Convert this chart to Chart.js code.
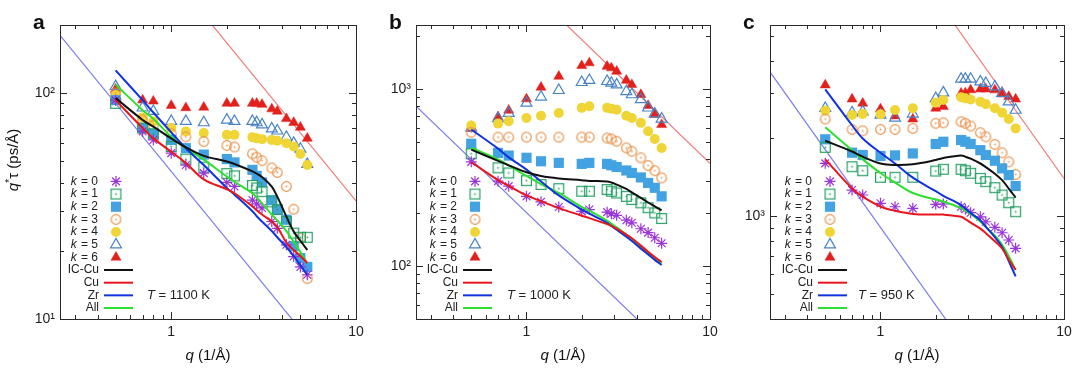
<!DOCTYPE html>
<html>
<head>
<meta charset="utf-8">
<script src="https://cdn.jsdelivr.net/npm/chart.js@4.4.0/dist/chart.umd.min.js"></script>
<style>
  body { margin: 0; background: #fff; width: 1080px; height: 373px; position: relative; overflow: hidden; }
  canvas { position: absolute; top: 0; }
</style>
</head>
<body>
<canvas id="chartA" width="376" height="373" style="left:0px"></canvas>
<canvas id="chartB" width="370" height="373" style="left:360px"></canvas>
<canvas id="chartC" width="360" height="373" style="left:720px"></canvas>
<script>
// q values (1/Å) shared by all markers and curves
const qK = [0.5, 0.7, 0.8, 1.0, 1.2, 1.5, 2.0, 2.2, 2.75, 2.9, 3.1, 3.5, 3.75, 4.2, 4.6, 5.0, 5.45];
const kLabels = ['0', '1', '2', '3', '4', '5', '6'];
const lineLabels = ['IC-Cu', 'Cu', 'Zr', 'All'];

// reference power-law lines (two end points each)
const refQ = [0.25, 10];

// panel a, T = 1100 K
const aK0 = [93, 67.6, 62, 54.2, 48, 44.2, 40.2, 38.6, 33.6, 32.3, 31, 27, 25.2, 21.3, 18.9, 17, 15.7];
const aK1 = [90, 70, 66, 58, 51, 47, 44, 43, 39, 38, 36.6, 33, 30.5, 27, 24, 23, 23];
const aK2 = [93, 70, 66, 62, 57, 53.4, 51, 49.3, 45.7, 43, 40.2, 33.6, 30.4, 27.5, 21, 18.6, 17];
const aK3 = [100, 76, 72, 66, 64, 61, 58.6, 57.7, 53.8, 52, 50.2, 46.6, 44.5, 38.6, 30.6, 22.8, 15.1];
const aK4 = [98, 78, 74.8, 70, 67.6, 66.5, 65.3, 65.3, 63.8, 63, 62.5, 62, 61.5, 60, 58, 53.7, 48];
const aK5 = [107, 86, 83, 75, 75, 74, 76, 75, 75, 74, 72.4, 69.5, 68, 63.8, 60, 56.5, 48.4];
const aK6 = [104, 93, 92, 88, 86, 86.5, 90, 90, 90, 90, 89, 85, 83, 77, 74, 70.5, 63];
const aIC = [95, 76, 71, 63, 57.5, 52.7, 49.8, 48.5, 45, 44, 42.5, 38.5, 34.8, 28.4, 24.4, 22.2, 20.2];
const aCu = [93, 70, 63, 55, 49, 41.5, 37.5, 36, 31.5, 30.3, 29, 27, 25.5, 21.8, 20.2, 19, 17.7];
const aZr = [126, 93, 82, 67, 57, 48, 38, 35.5, 30, 28.5, 27, 24.5, 23, 20.8, 19, 17.3, 15.7];
const aAll = [109, 84, 77, 64, 57, 50.7, 42.7, 40.5, 36, 34.5, 32.5, 29, 27.3, 24.5, 22, 19.8, 17.6];
const aRefBlue = [180, 4.5];
const aRefRed = [1332, 33.3];

// panel b, T = 1000 K
const bK0 = [387, 301, 282, 247, 230, 215, 203, 208, 201, 197, 193, 181, 175, 162, 154, 144, 134];
const bK1 = [430, 358, 335, 303, 288, 273, 264, 264, 270, 264, 258, 247, 237, 227, 213, 199, 185];
const bK2 = [490, 435, 420, 408, 390, 382, 377, 382, 377, 370, 362, 346, 335, 316, 294, 276, 247];
const bK3 = [569, 534, 534, 534, 534, 534, 534, 534, 528, 522, 506, 464, 444, 408, 369, 345, 314];
const bK4 = [621, 637, 656, 685, 706, 731, 782, 798, 782, 774, 764, 706, 685, 643, 576, 521, 464];
const bK5 = [604, 680, 730, 833, 902, 982, 1090, 1119, 1104, 1081, 1057, 969, 929, 871, 782, 724, 677];
const bK6 = [597, 695, 757, 878, 1021, 1178, 1354, 1403, 1342, 1315, 1258, 1119, 1057, 929, 805, 716, 628];
const bIC = [454, 392, 370, 338, 322, 312, 305, 302, 300, 296, 288, 272, 260, 242, 228, 217, 206];
const bCu = [385, 305, 283, 250, 232, 212, 192, 186, 172, 168, 162, 150, 143, 130, 120, 112, 105];
const bZr = [590, 460, 410, 350, 300, 250, 208, 197, 175, 168, 160, 146, 138, 125, 116, 108, 101];
const bAll = [465, 400, 370, 322, 290, 258, 215, 205, 180, 173, 165, 150, 141, 128, 118, 110, 103];
const bRefBlue = [800, 20];
const bRefRed = [15200, 380];

// panel c, T = 950 K
const cK0 = [1602, 1263, 1208, 1122, 1088, 1073, 1112, 1115, 1088, 1064, 1032, 995, 952, 906, 863, 809, 751];
const cK1 = [1848, 1555, 1500, 1415, 1415, 1415, 1496, 1520, 1520, 1500, 1466, 1402, 1361, 1290, 1208, 1128, 1041];
const cK2 = [1985, 1762, 1726, 1711, 1720, 1750, 1904, 1942, 1972, 1942, 1904, 1802, 1726, 1640, 1532, 1443, 1309];
const cK3 = [2378, 2168, 2142, 2168, 2168, 2188, 2290, 2300, 2322, 2290, 2234, 2105, 2030, 1897, 1760, 1625, 1452];
const cK4 = [2560, 2466, 2490, 2480, 2576, 2618, 2750, 2818, 2887, 2860, 2830, 2773, 2717, 2618, 2518, 2378, 2188];
const cK5 = [2618, 2518, 2540, 2466, 2400, 2490, 2857, 3008, 3397, 3397, 3397, 3318, 3272, 3173, 2992, 2773, 2576];
const cK6 = [3220, 2840, 2737, 2602, 2444, 2378, 2618, 2656, 2992, 3000, 3083, 3106, 3106, 3083, 2970, 2905, 2840];
const cIC = [1960, 1780, 1700, 1600, 1580, 1590, 1650, 1680, 1720, 1700, 1670, 1600, 1550, 1460, 1380, 1280, 1180];
const cCu = [1660, 1280, 1190, 1090, 1050, 1020, 1015, 1015, 995, 975, 945, 895, 860, 800, 750, 680, 620];
const cZr = [3100, 2250, 2000, 1760, 1600, 1410, 1250, 1200, 1105, 1070, 1030, 965, 910, 830, 760, 670, 585];
const cAll = [2210, 1800, 1660, 1470, 1350, 1230, 1160, 1140, 1075, 1050, 1020, 955, 910, 840, 775, 700, 620];
const cRefBlue = [3620, 90.5];
const cRefRed = [56000, 1400];

// tick positions and labels
const xTicks = [0.3, 0.4, 0.5, 0.6, 0.7, 0.8, 0.9, 1, 2, 3, 4, 5, 6, 7, 8, 9, 10];
const xMajor = [1, 10];
const xMajorLabels = ['1', '10'];
const yTicksA = [10, 20, 30, 40, 50, 60, 70, 80, 90, 100, 200];
const yTicksB = [50, 60, 70, 80, 90, 100, 200, 300, 400, 500, 600, 700, 800, 900, 1000, 2000];
const yTicksC = [400, 500, 600, 700, 800, 900, 1000, 2000, 3000, 4000, 5000];
const yMajor = [10, 100, 1000];
const yMajorLabels = ['10¹', '10²', '10³'];

const FONT = "'Liberation Sans', Arial, sans-serif";

function makeMarker(shape, color) {
  const c = document.createElement('canvas');
  c.width = 13; c.height = 13;
  const g = c.getContext('2d');
  g.strokeStyle = color;
  g.fillStyle = color;
  g.lineWidth = 1.2;
  if (shape === 'sq') {
    g.strokeRect(1.6, 1.6, 9.8, 9.8);
  } else {
    g.beginPath();
    g.arc(6.5, 6.5, 4.8, 0, Math.PI * 2);
    g.stroke();
  }
  g.fillRect(5.7, 5.7, 1.6, 1.6);
  return c;
}

const kStyles = [
  { style: 'star', color: '#9b35d8', fill: '#9b35d8', r: 5.5, bw: 1.2 },
  { style: makeMarker('sq', '#27a065'), color: '#27a065', fill: 'transparent', r: 6, bw: 1 },
  { style: 'rect', color: '#43a2e2', fill: '#43a2e2', r: 7.2, bw: 0 },
  { style: makeMarker('circ', '#ea9550'), color: '#ea9550', fill: 'transparent', r: 6, bw: 1 },
  { style: 'circle', color: '#efd535', fill: '#efd535', r: 5, bw: 0 },
  { style: 'triangle', color: '#4a84c6', fill: 'rgba(0,0,0,0)', r: 6.3, bw: 1.2 },
  { style: 'triangle', color: '#e2211c', fill: '#e2211c', r: 5.8, bw: 0.5 }
];
const lineColors = ['#111111', '#e8161c', '#1133dd', '#2ee02e'];

function pts(xs, ys) {
  return xs.map((x, i) => ({ x: x, y: ys[i] }));
}

const decor = {
  id: 'decor',
  afterDatasetsDraw(chart, args, o) {
    const { ctx, chartArea: a, scales: { x, y } } = chart;
    ctx.save();
    ctx.strokeStyle = '#2a2a2a';
    ctx.lineWidth = 1;
    const seg = (x1, y1, x2, y2) => { ctx.beginPath(); ctx.moveTo(x1, y1); ctx.lineTo(x2, y2); ctx.stroke(); };
    // inward ticks on all four sides
    xTicks.forEach(v => {
      const px = Math.round(x.getPixelForValue(v)) + 0.5;
      const len = xMajor.includes(v) ? 7 : 4;
      seg(px, a.bottom, px, a.bottom - len);
      seg(px, a.top, px, a.top + len);
    });
    o.yTicks.forEach(v => {
      const py = Math.round(y.getPixelForValue(v)) + 0.5;
      const len = yMajor.includes(v) ? 7 : 4;
      seg(a.left, py, a.left + len, py);
      seg(a.right, py, a.right - len, py);
    });
    ctx.strokeRect(Math.round(a.left) + 0.5, Math.round(a.top) + 0.5, Math.round(a.right - a.left), Math.round(a.bottom - a.top));

    // legend inside the plot, bottom-left
    const step = 12.66;
    const textR = a.left + o.legendDx;
    const markX = a.left + o.legendDx + 18;
    ctx.textBaseline = 'middle';
    ctx.fillStyle = '#222';
    for (let i = 0; i < 11; i++) {
      const ry = a.bottom - 11 - (10 - i) * step;
      if (i < 7) {
        ctx.font = '12px ' + FONT;
        const rest = ' = ' + kLabels[i];
        const wRest = ctx.measureText(rest).width;
        ctx.textAlign = 'left';
        ctx.fillStyle = '#222';
        ctx.fillText(rest, textR - wRest, ry);
        ctx.font = 'italic 12px ' + FONT;
        const wk = ctx.measureText('k').width;
        ctx.fillText('k', textR - wRest - wk - 1, ry);
        const st = kStyles[i];
        ctx.save();
        ctx.fillStyle = st.fill;
        ctx.strokeStyle = st.color;
        ctx.lineWidth = st.bw;
        Chart.helpers.drawPoint(ctx, { pointStyle: st.style, radius: st.r, borderWidth: st.bw, rotation: 0 }, markX, ry);
        ctx.restore();
      } else {
        ctx.font = '12px ' + FONT;
        ctx.textAlign = 'right';
        ctx.fillStyle = '#222';
        ctx.fillText(lineLabels[i - 7], textR + 1, ry);
        ctx.strokeStyle = lineColors[i - 7];
        ctx.lineWidth = 2;
        seg(a.left + o.legendDx + 6, ry, a.left + o.legendDx + 35, ry);
      }
    }
    // temperature
    ctx.textAlign = 'left';
    ctx.fillStyle = '#222';
    const ty = a.bottom - 11 - step;
    const tx = a.left + o.tempDx;
    ctx.font = 'italic 13px ' + FONT;
    ctx.fillText('T', tx, ty);
    const wT = ctx.measureText('T').width;
    ctx.font = '13px ' + FONT;
    ctx.fillText(' = ' + o.temp + ' K', tx + wT, ty);

    // panel letter
    ctx.font = 'bold 21px ' + FONT;
    ctx.textBaseline = 'alphabetic';
    ctx.fillStyle = '#111';
    ctx.fillText(o.letter, a.left - 27, 29);

    // x title: q (1/Å)
    ctx.font = 'italic 15px ' + FONT;
    const wq = ctx.measureText('q').width;
    ctx.font = '15px ' + FONT;
    const wr = ctx.measureText(' (1/Å)').width;
    const cx = (a.left + a.right) / 2 - (wq + wr) / 2;
    ctx.textBaseline = 'middle';
    ctx.font = 'italic 15px ' + FONT;
    ctx.fillText('q', cx, 356);
    ctx.font = '15px ' + FONT;
    ctx.fillText(' (1/Å)', cx + wq, 356);

    // y title (panel a only)
    if (o.yTitle) {
      ctx.save();
      ctx.translate(14, 160);
      ctx.rotate(-Math.PI / 2);
      ctx.font = 'italic 15px ' + FONT;
      const w1 = ctx.measureText('q').width;
      ctx.font = '11px ' + FONT;
      const w2 = ctx.measureText('*').width;
      ctx.font = '15px ' + FONT;
      const w3 = ctx.measureText('τ (ps/Å)').width;
      let sx = -(w1 + w2 + w3) / 2;
      ctx.font = 'italic 15px ' + FONT;
      ctx.fillText('q', sx, 0);
      ctx.font = '11px ' + FONT;
      ctx.fillText('*', sx + w1, -4);
      ctx.font = '15px ' + FONT;
      ctx.fillText('τ (ps/Å)', sx + w1 + w2, 0);
      ctx.restore();
    }
    ctx.restore();
  }
};

function makePanel(id, p) {
  const datasets = [];
  p.k.forEach((vals, i) => {
    const st = kStyles[i];
    datasets.push({
      label: 'k = ' + kLabels[i],
      data: pts(qK, vals),
      showLine: false,
      order: 1,
      pointStyle: st.style,
      pointRadius: st.r,
      pointBorderWidth: st.bw,
      pointBackgroundColor: st.fill,
      pointBorderColor: st.color
    });
  });
  p.lines.forEach((vals, i) => {
    datasets.push({
      label: lineLabels[i],
      data: pts(qK, vals),
      showLine: true,
      order: 0,
      pointRadius: 0,
      borderColor: lineColors[i],
      borderWidth: 2,
      tension: 0.35
    });
  });
  [[p.refBlue, '#7d7dea'], [p.refRed, '#f07c7c']].forEach(([vals, col]) => {
    datasets.push({
      data: pts(refQ, vals),
      showLine: true,
      order: 2,
      pointRadius: 0,
      borderColor: col,
      borderWidth: 1.2
    });
  });

  return new Chart(document.getElementById(id), {
    type: 'scatter',
    data: { datasets: datasets },
    options: {
      responsive: false,
      animation: false,
      events: [],
      layout: { padding: { top: 25, right: p.padRight, bottom: 0, left: 0 } },
      plugins: {
        legend: { display: false },
        tooltip: { enabled: false },
        decor: { yTicks: p.yTicks, letter: p.letter, temp: p.temp, yTitle: p.yTitle, legendDx: p.legendDx, tempDx: p.tempDx }
      },
      scales: {
        x: {
          type: 'logarithmic',
          min: 0.25,
          max: 10,
          grid: { display: false, drawTicks: false },
          border: { display: false },
          afterBuildTicks: s => { s.ticks = xTicks.map(v => ({ value: v })); },
          afterFit: s => { s.height = 54; s.paddingLeft = 0; s.paddingRight = 0; },
          ticks: {
            autoSkip: false,
            maxRotation: 0,
            padding: 5,
            color: '#222',
            font: { family: FONT, size: 14 },
            callback: v => { const i = xMajor.indexOf(v); return i >= 0 ? xMajorLabels[i] : ''; }
          }
        },
        y: {
          type: 'logarithmic',
          min: p.yMin,
          max: p.yMax,
          grid: { display: false, drawTicks: false },
          border: { display: false },
          afterBuildTicks: s => { s.ticks = p.yTicks.map(v => ({ value: v })); },
          afterFit: s => { s.width = p.yWidth; s.paddingTop = 0; s.paddingBottom = 0; },
          ticks: {
            autoSkip: false,
            padding: 5,
            color: '#222',
            font: { family: FONT, size: 14 },
            callback: v => { const i = yMajor.indexOf(v); return (i >= 0 && p.yLabels.includes(v)) ? yMajorLabels[i] : ''; }
          }
        }
      }
    },
    plugins: [decor]
  });
}

makePanel('chartA', {
  k: [aK0, aK1, aK2, aK3, aK4, aK5, aK6],
  lines: [aIC, aCu, aZr, aAll],
  refBlue: aRefBlue, refRed: aRefRed,
  yMin: 10, yMax: 200, yTicks: yTicksA, yLabels: [10, 100],
  yWidth: 60, padRight: 20, letter: 'a', temp: '1100', yTitle: true, legendDx: 38, tempDx: 87
});
makePanel('chartB', {
  k: [bK0, bK1, bK2, bK3, bK4, bK5, bK6],
  lines: [bIC, bCu, bZr, bAll],
  refBlue: bRefBlue, refRed: bRefRed,
  yMin: 50, yMax: 2300, yTicks: yTicksB, yLabels: [100, 1000],
  yWidth: 56, padRight: 20, letter: 'b', temp: '1000', yTitle: false, legendDx: 41, tempDx: 91
});
makePanel('chartC', {
  k: [cK0, cK1, cK2, cK3, cK4, cK5, cK6],
  lines: [cIC, cCu, cZr, cAll],
  refBlue: cRefBlue, refRed: cRefRed,
  yMin: 400, yMax: 5500, yTicks: yTicksC, yLabels: [1000],
  yWidth: 50, padRight: 16, letter: 'c', temp: '950', yTitle: false, legendDx: 42, tempDx: 88
});
</script>
</body>
</html>
